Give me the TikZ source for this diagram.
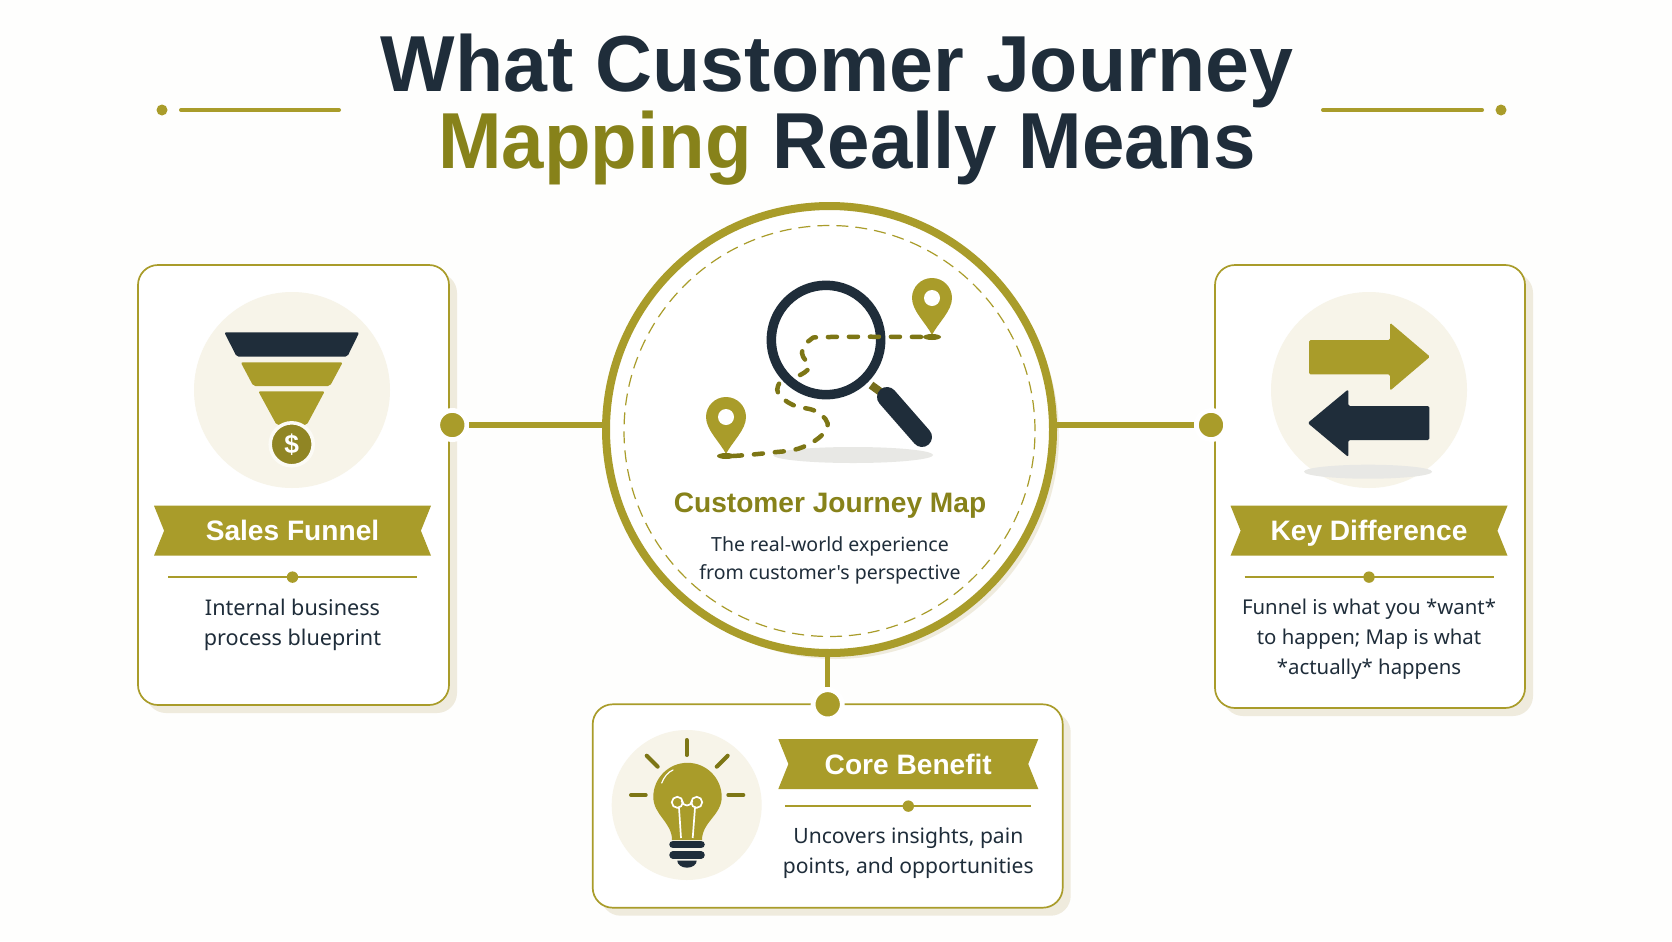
\documentclass[tikz,border=0pt]{standalone}
\usepackage{fontspec}
\setmainfont{Liberation Sans}
\newfontfamily\bodyfont{Noto Sans}
\usepackage{xcolor}
\usepackage{tikz}
\usetikzlibrary{
    positioning,
    calc,
    shadows,
    shapes.symbols
}
\definecolor{goldmain}{HTML}{A99C2A}
\definecolor{golddark}{HTML}{7D7615}
\definecolor{goldtitle}{HTML}{87821A}
\definecolor{navy}{HTML}{1F2D3A}
\definecolor{cream}{HTML}{F7F4E9}
\definecolor{cardshade}{HTML}{EFEBDD}
\definecolor{pagebg}{HTML}{FEFEFD}
\definecolor{floorgrey}{HTML}{E8E8E5}
\tikzset{
    card/.style={
        rectangle, draw=goldmain, line width=0.017cm, fill=white,
        rounded corners=0.2cm, inner sep=0pt,
        general shadow={fill=cardshade, shadow xshift=0.08cm, shadow yshift=-0.08cm}
    },
    hub/.style={
        circle, draw=goldmain, line width=0.08cm, fill=white,
        minimum size=4.47cm, inner sep=0pt,
        general shadow={fill=cardshade, shadow xshift=0.06cm, shadow yshift=-0.06cm}
    },
    hub_ring/.style={
        circle, draw=goldmain, line width=0.012cm, dash pattern=on 0.12cm off 0.07cm,
        minimum size=4.11cm, inner sep=0pt
    },
    icon_disc/.style={
        circle, fill=cream, inner sep=0pt
    },
    band/.style={
        shape=signal, signal to=nowhere, signal from=west and east,
        signal pointer angle=136, fill=goldmain, text=white,
        minimum height=0.5cm, inner sep=0pt, text height=0.2cm, text depth=0pt,
        font=\fontsize{8}{9.6}\selectfont\bfseries
    },
    tick/.style={
        circle, fill=goldmain, inner sep=0pt, minimum size=0.114cm
    },
    rule/.style={
        draw=goldmain, line width=0.014cm
    },
    blurb/.style={
        align=center, inner sep=0pt, text=navy,
        font=\fontsize{#1}{8.5}\selectfont\bodyfont
    },
    blurb/.default=6,
    hub_blurb/.style={
        align=center, inner sep=0pt, text=navy,
        font=\fontsize{5.55}{7.9}\selectfont\bodyfont
    },
    dot/.style={
        circle, fill=goldmain, draw=white, line width=0.048cm,
        minimum size=0.292cm, inner sep=0pt
    },
    link/.style={
        draw=goldmain, line width=0.055cm
    },
    title_line/.style={
        anchor=base, inner sep=0pt, text=navy, transform shape,
        font=\fontsize{22.6}{26}\selectfont\bfseries
    },
    trail/.style={
        draw=golddark, line width=0.045cm, dash pattern=on 0.09cm off 0.12cm, line cap=round
    },
    ray/.style={
        draw=golddark, line width=0.04cm, line cap=round
    },
    bulb_base/.style={
        draw=navy, line width=0.075cm, line cap=round
    },
    filament/.style={
        draw=white, line width=0.017cm
    },
    map_pin/.pic={
        \fill[goldmain] (0,0) .. controls (-0.06,0.12) and (-0.2,0.24) .. (-0.2,0.37)
            arc (180:0:0.2) .. controls (0.2,0.24) and (0.06,0.12) .. (0,0) -- cycle;
        \fill[white] (0,0.37) circle (0.08);
        \fill[golddark] (0,-0.02) ellipse (0.09 and 0.03);
    }
}

\begin{document}
\begin{tikzpicture}

    \path[use as bounding box, fill=pagebg] (0,0) rectangle (16.72,-9.41);

    % --- TITLE ---
    \node[title_line, xscale=0.994] (title_top) at (8.37,-0.91) {What Customer Journey};
    \node[title_line, xscale=0.96] (title_low) at (8.47,-1.683) {\textcolor{goldtitle}{Mapping} Really Means};

    \node[tick, minimum size=0.11cm] (orn_left) at (1.62,-1.10) {};
    \node[tick, minimum size=0.11cm] (orn_right) at (15.01,-1.10) {};
    \draw[goldmain, line width=0.04cm, line cap=round] (1.81,-1.10) -- (3.39,-1.10);
    \draw[goldmain, line width=0.04cm, line cap=round] (13.23,-1.10) -- (14.82,-1.10);

    % --- CENTRE CIRCLE ---
    \node[hub] (hub) at (8.295,-4.295) {};
    \node[hub_ring] (ring) at (8.295,-4.31) {};

    \fill[floorgrey] (8.53,-4.55) ellipse (0.8 and 0.08);
    \pic at (7.26,-4.54) {map_pin};
    \pic at (9.32,-3.35) {map_pin};
    \draw[trail] plot[smooth, tension=0.7] coordinates {(7.33,-4.56) (7.67,-4.53) (8.03,-4.47) (8.27,-4.28) (8.17,-4.12) (7.93,-4.05) (7.78,-3.93) (7.80,-3.82)};
    \draw[goldmain!70!black, line width=0.08cm] (8.71,-3.85) -- (8.82,-3.93);
    \draw[navy, line width=0.2cm, line cap=round] (8.87,-3.97) -- (9.22,-4.37);
    \draw[navy, line width=0.095cm] (8.26,-3.40) circle (0.547);
    \draw[trail] plot[smooth, tension=0.7] coordinates {(8.00,-3.75) (8.09,-3.67) (8.02,-3.53) (8.10,-3.40) (8.30,-3.37) (9.30,-3.37)};

    \node[font=\fontsize{8}{10}\selectfont\bfseries, text=goldtitle, inner sep=0pt] (hub_title) at (8.30,-5.06) {Customer Journey Map};
    \node[hub_blurb, below=0.17cm of hub_title] (hub_text) {The real-world experience\\from customer's perspective};

    % --- SALES FUNNEL ---
    \node[card, minimum width=3.11cm, minimum height=4.40cm] (card_funnel) at (2.935,-4.85) {};
    \node[icon_disc, minimum size=1.96cm] (disc_funnel) at (2.92,-3.90) {};
    \fill[navy, rounded corners=0.02cm] (2.243,-3.323) -- (3.593,-3.323) -- (3.473,-3.567) -- (2.367,-3.567) -- cycle;
    \fill[goldmain, rounded corners=0.02cm] (2.407,-3.623) -- (3.427,-3.623) -- (3.30,-3.86) -- (2.533,-3.86) -- cycle;
    \fill[goldmain, rounded corners=0.02cm] (2.583,-3.913) -- (3.247,-3.913) -- (3.067,-4.25) -- (2.767,-4.25) -- cycle;
    \node[circle, fill=goldmain!85!black, draw=white!60!cream, line width=0.035cm, minimum size=0.43cm, inner sep=0pt, text=white, font=\fontsize{7.5}{8}\selectfont\bfseries] (coin) at (2.917,-4.443) {\$};

    \node[band, minimum width=2.77cm] (band_funnel) at (2.925,-5.307) {Sales Funnel};
    \node[tick, below=0.143cm of band_funnel] (tick_funnel) {};
    \draw[rule] ($(tick_funnel)+(-1.245,0)$) -- ($(tick_funnel)+(1.245,0)$);
    \node[blurb=6.15, below=0.15cm of tick_funnel] (text_funnel) {Internal business\\process blueprint};

    % --- KEY DIFFERENCE ---
    \node[card, minimum width=3.10cm, minimum height=4.43cm] (card_key) at (13.70,-4.865) {};
    \node[icon_disc, minimum size=1.96cm] (disc_key) at (13.69,-3.90) {};
    \fill[floorgrey] (13.68,-4.717) ellipse (0.64 and 0.07);
    \fill[goldmain, rounded corners=0.015cm] (13.09,-3.40) -- (13.90,-3.40) -- (13.90,-3.227) -- (14.30,-3.567) -- (13.90,-3.907) -- (13.90,-3.743) -- (13.09,-3.743) -- cycle;
    \fill[navy, rounded corners=0.015cm] (14.293,-4.06) -- (13.483,-4.06) -- (13.483,-3.893) -- (13.077,-4.23) -- (13.483,-4.57) -- (13.483,-4.40) -- (14.293,-4.40) -- cycle;

    \node[band, minimum width=2.77cm] (band_key) at (13.69,-5.307) {Key Difference};
    \node[tick, below=0.143cm of band_key] (tick_key) {};
    \draw[rule] ($(tick_key)+(-1.245,0)$) -- ($(tick_key)+(1.245,0)$);
    \node[blurb=5.8, below=0.15cm of tick_key] (text_key) {Funnel is what you *want*\\to happen; Map is what\\*actually* happens};

    % --- CORE BENEFIT ---
    \node[card, minimum width=4.70cm, minimum height=2.034cm] (card_core) at (8.277,-8.06) {};
    \node[icon_disc, minimum size=1.50cm] (disc_core) at (6.867,-8.05) {};
    \draw[ray] (6.867,-7.40) -- (6.867,-7.55);
    \draw[ray] (6.467,-7.557) -- (6.577,-7.667);
    \draw[ray] (7.277,-7.557) -- (7.167,-7.667);
    \draw[ray] (6.31,-7.95) -- (6.457,-7.95);
    \draw[ray] (7.283,-7.95) -- (7.433,-7.95);
    \fill[goldmain] (6.72,-8.40) .. controls (6.72,-8.22) and (6.533,-8.15) .. (6.533,-7.97)
        arc (180:0:0.342) .. controls (7.217,-8.15) and (7.02,-8.22) .. (7.02,-8.40) -- cycle;
    \draw[filament] (6.773,-8.023) circle (0.055);
    \draw[filament] (6.967,-8.023) circle (0.055);
    \draw[filament] (6.815,-8.01) .. controls (6.84,-8.07) and (6.90,-8.07) .. (6.925,-8.01);
    \draw[filament] (6.79,-8.077) -- (6.81,-8.38);
    \draw[filament] (6.95,-8.077) -- (6.927,-8.38);
    \draw[white, line width=0.012cm, line cap=round] (6.617,-7.83) .. controls (6.64,-7.77) and (6.68,-7.72) .. (6.73,-7.70);
    \draw[bulb_base] (6.73,-8.445) -- (7.01,-8.445);
    \draw[bulb_base] (6.73,-8.55) -- (7.01,-8.55);
    \fill[navy] (6.773,-8.607) arc (180:360:0.097 and 0.07) -- cycle;

    \node[band, minimum width=2.60cm] (band_core) at (9.083,-7.64) {Core Benefit};
    \node[tick, below=0.10cm of band_core] (tick_core) {};
    \draw[rule] ($(tick_core)+(-1.23,0)$) -- ($(tick_core)+(1.23,0)$);
    \node[blurb, below=0.14cm of tick_core] (text_core) {Uncovers insights, pain\\points, and opportunities};

    % --- CONNECTORS ---
    \node[dot] (dot_funnel) at (4.523,-4.25) {};
    \node[dot] (dot_key) at (12.11,-4.25) {};
    \node[dot] (dot_core) at (8.277,-7.043) {};
    \draw[link] (dot_funnel -| hub.west) -- (dot_funnel);
    \draw[link] (dot_key -| hub.east) -- (dot_key);
    \draw[link] (dot_core |- hub.south) -- (dot_core);

\end{tikzpicture}
\end{document}
